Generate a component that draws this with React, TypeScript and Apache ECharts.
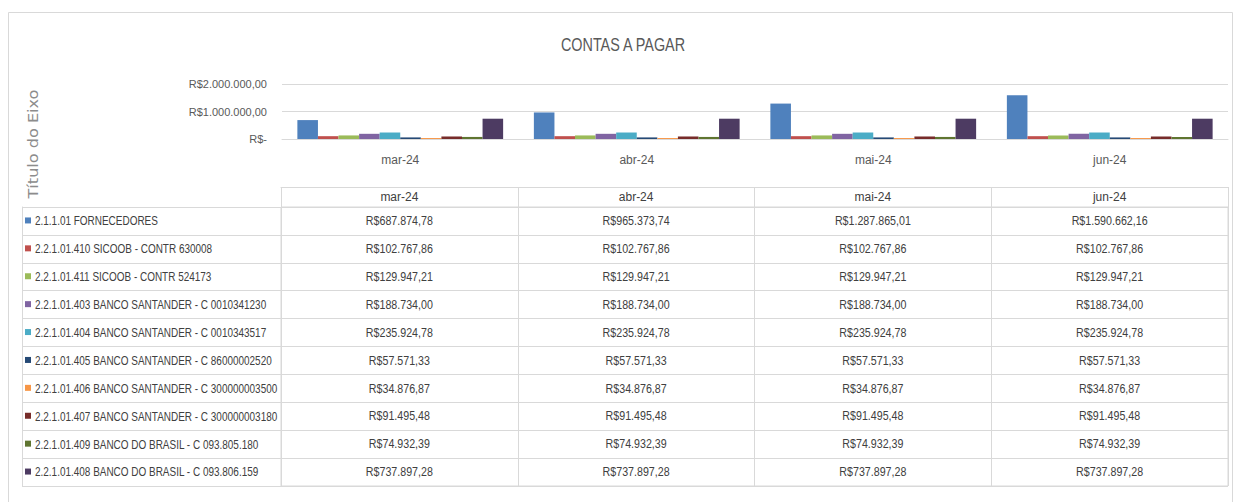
import React, { useEffect, useRef } from "react";
import * as echarts from "echarts";

const months = ["mar-24", "abr-24", "mai-24", "jun-24"];

const seriesNames = [
  "2.1.1.01 FORNECEDORES",
  "2.2.1.01.410 SICOOB - CONTR 630008",
  "2.2.1.01.411 SICOOB - CONTR 524173",
  "2.2.1.01.403 BANCO SANTANDER - C 0010341230",
  "2.2.1.01.404 BANCO SANTANDER - C 0010343517",
  "2.2.1.01.405 BANCO SANTANDER - C 86000002520",
  "2.2.1.01.406 BANCO SANTANDER - C 300000003500",
  "2.2.1.01.407 BANCO SANTANDER - C 300000003180",
  "2.2.1.01.409 BANCO DO BRASIL - C 093.805.180",
  "2.2.1.01.408 BANCO DO BRASIL - C 093.806.159",
];

const seriesColors = [
  "#4F81BD",
  "#C0504D",
  "#9BBB59",
  "#8064A2",
  "#4BACC6",
  "#254975",
  "#F79646",
  "#772C2A",
  "#5F7530",
  "#4D3B62",
];

const fornecedores = [687874.78, 965373.74, 1287865.01, 1590662.16];
const sicoob630008 = [102767.86, 102767.86, 102767.86, 102767.86];
const sicoob524173 = [129947.21, 129947.21, 129947.21, 129947.21];
const santander0010341230 = [188734.0, 188734.0, 188734.0, 188734.0];
const santander0010343517 = [235924.78, 235924.78, 235924.78, 235924.78];
const santander86000002520 = [57571.33, 57571.33, 57571.33, 57571.33];
const santander300000003500 = [34876.87, 34876.87, 34876.87, 34876.87];
const santander300000003180 = [91495.48, 91495.48, 91495.48, 91495.48];
const bb093805180 = [74932.39, 74932.39, 74932.39, 74932.39];
const bb093806159 = [737897.28, 737897.28, 737897.28, 737897.28];

const seriesValues = [
  fornecedores,
  sicoob630008,
  sicoob524173,
  santander0010341230,
  santander0010343517,
  santander86000002520,
  santander300000003500,
  santander300000003180,
  bb093805180,
  bb093806159,
];

const yMin = 0;
const yMax = 2000000;
const yInterval = 1000000;

const FONT = '"Liberation Sans", Arial, sans-serif';
const GRID_LINE = "#d9d9d9";
const TEXT = "#595959";
const CELL_TEXT = "#404040";

function formatBRL(v: number): string {
  if (v === 0) return "R$-";
  const [intPart, dec] = v.toFixed(2).split(".");
  const withSep = intPart.replace(/\B(?=(\d{3})+(?!\d))/g, ".");
  return "R$" + withSep + "," + dec;
}

export default function App() {
  const ref = useRef<HTMLDivElement>(null);

  useEffect(() => {
    if (!ref.current) return;
    const chart = echarts.init(ref.current, null, { renderer: "svg" });

    const barSeries = seriesNames.map((name, i) => ({
      type: "bar",
      name,
      xAxisIndex: 0,
      yAxisIndex: 0,
      data: seriesValues[i],
      itemStyle: { color: seriesColors[i] },
      barGap: "0%",
      barCategoryGap: "13%",
    }));

    const cellData: number[][] = [];
    seriesValues.forEach((vals, r) => {
      vals.forEach((v, c) => cellData.push([c, r, v]));
    });

    const rowData = seriesNames.map((_, i) => [0, i]);

    const option: any = {
      animation: false,
      backgroundColor: "#ffffff",
      textStyle: { fontFamily: FONT },
      graphic: [
        {
          type: "rect",
          z: -10,
          shape: { x: 8.5, y: 12.5, width: 1224, height: 520 },
          style: { fill: "#ffffff", stroke: GRID_LINE, lineWidth: 1 },
          silent: true,
        },
        {
          type: "text",
          x: 623,
          y: 44,
          scaleX: 0.8,
          style: {
            text: "CONTAS A PAGAR",
            align: "center",
            verticalAlign: "middle",
            fontSize: 18,
            fill: TEXT,
            fontFamily: FONT,
          },
        },
        {
          type: "text",
          x: 33,
          y: 144,
          rotation: Math.PI / 2,
          scaleX: 1.15,
          style: {
            text: "Título do Eixo",
            align: "center",
            verticalAlign: "middle",
            fontSize: 14,
            fill: "#8c8c8c",
            fontFamily: '"DejaVu Sans", sans-serif',
          },
        },
      ],
      grid: [
        { left: 282, right: 7, top: 84, height: 55 },
        {
          left: 281,
          right: 7,
          top: 207,
          height: 279,
          show: true,
          borderColor: GRID_LINE,
          borderWidth: 1,
        },
      ],
      xAxis: [
        {
          gridIndex: 0,
          type: "category",
          data: months,
          axisLine: { show: true, lineStyle: { color: GRID_LINE } },
          axisTick: { show: false },
          axisLabel: { margin: 15, color: TEXT, fontSize: 12, fontFamily: FONT },
        },
        {
          gridIndex: 1,
          type: "category",
          data: months,
          position: "top",
          axisLine: { show: true, lineStyle: { color: GRID_LINE } },
          axisTick: { show: true, interval: 0, length: 20, lineStyle: { color: GRID_LINE } },
          axisLabel: { margin: 4, color: CELL_TEXT, fontSize: 12, fontFamily: FONT },
          splitLine: { show: true, interval: 0, lineStyle: { color: GRID_LINE } },
        },
        {
          gridIndex: 1,
          type: "category",
          data: months,
          position: "top",
          offset: 20,
          axisLine: { show: true, lineStyle: { color: GRID_LINE } },
          axisTick: { show: false },
          axisLabel: { show: false },
        },
      ],
      yAxis: [
        {
          gridIndex: 0,
          type: "value",
          min: yMin,
          max: yMax,
          interval: yInterval,
          axisLine: { show: false },
          axisTick: { show: false },
          axisLabel: {
            margin: 15,
            color: TEXT,
            fontSize: 11,
            fontFamily: FONT,
            formatter: (v: number) => formatBRL(v),
          },
          splitLine: { show: true, lineStyle: { color: GRID_LINE } },
        },
        {
          gridIndex: 1,
          type: "category",
          data: seriesNames,
          inverse: true,
          axisLine: { show: true, lineStyle: { color: GRID_LINE } },
          axisTick: { show: true, interval: 0, length: 259, lineStyle: { color: GRID_LINE } },
          splitLine: { show: true, interval: 0, lineStyle: { color: GRID_LINE } },
          axisLabel: { show: false },
        },
        {
          gridIndex: 1,
          type: "category",
          data: seriesNames,
          inverse: true,
          position: "left",
          offset: 259,
          axisLine: { show: true, lineStyle: { color: GRID_LINE } },
          axisTick: { show: false },
          axisLabel: { show: false },
        },
      ],
      series: [
        ...barSeries,
        {
          type: "custom",
          name: "rotulos",
          xAxisIndex: 1,
          yAxisIndex: 1,
          silent: true,
          clip: false,
          data: rowData,
          encode: { x: 0, y: 1 },
          renderItem: (params: any, api: any) => {
            const i = params.dataIndex;
            const pt = api.coord([0, api.value(1)]);
            const x0 = params.coordSys.x - 256;
            return {
              type: "group",
              children: [
                {
                  type: "rect",
                  shape: { x: x0, y: pt[1] - 3.5, width: 6, height: 6 },
                  style: { fill: seriesColors[i] },
                },
                {
                  type: "text",
                  x: x0 + 10,
                  y: pt[1],
                  scaleX: 0.81,
                  style: {
                    text: seriesNames[i],
                    fill: CELL_TEXT,
                    fontSize: 12.3,
                    fontFamily: FONT,
                    align: "left",
                    verticalAlign: "middle",
                  },
                },
              ],
            };
          },
        },
        {
          type: "custom",
          name: "tabela",
          xAxisIndex: 1,
          yAxisIndex: 1,
          silent: true,
          data: cellData,
          encode: { x: 0, y: 1 },
          renderItem: (params: any, api: any) => {
            const pt = api.coord([api.value(0), api.value(1)]);
            return {
              type: "text",
              x: pt[0],
              y: pt[1],
              scaleX: 0.89,
              style: {
                text: formatBRL(api.value(2)),
                fill: CELL_TEXT,
                fontSize: 12,
                fontFamily: FONT,
                align: "center",
                verticalAlign: "middle",
              },
            };
          },
        },
      ],
    };

    chart.setOption(option);
    return () => chart.dispose();
  }, []);

  return (
    <div
      ref={ref}
      style={{ position: "fixed", left: 0, top: 0, width: 1235, height: 502, background: "#fff" }}
    />
  );
}
